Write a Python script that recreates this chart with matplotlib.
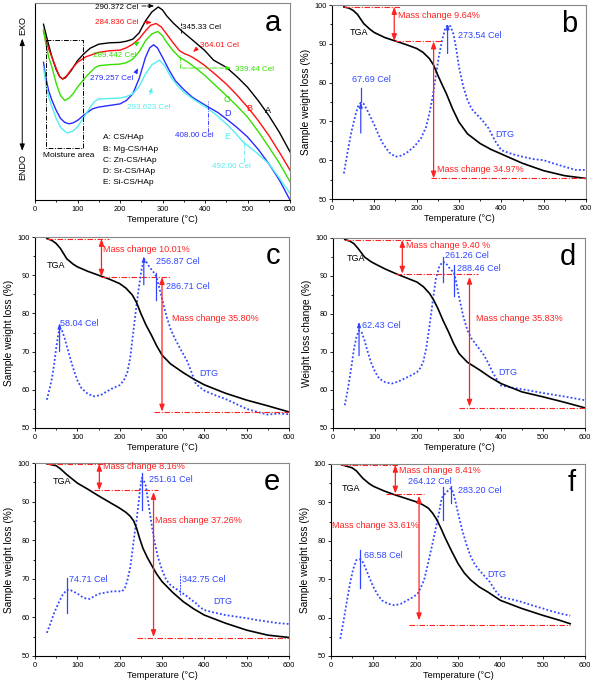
import matplotlib
matplotlib.use('Agg')
import matplotlib.pyplot as plt
from matplotlib.ticker import MultipleLocator

plt.rcParams['font.family'] = ['Liberation Sans', 'DejaVu Sans']

W, H = 593, 687
RED = '#ff2020'
BLUE = '#3047ff'
DASHDOT = (0, (5, 1.5, 1, 1.5))

# ---- panel a : DTA curves (arbitrary units) ----
a_T_A = [20, 25, 32, 40, 50, 58, 65, 72, 85, 100, 115, 130, 150, 175, 200, 215, 230, 245, 260, 275, 290,
         300, 310, 325, 345, 370, 400, 420, 450, 475, 500, 525, 550, 575, 600]
a_A = [88.3, 84, 78, 71.7, 65.5, 62, 60.8, 61.5, 65, 70, 73.5, 76.3, 78.3, 79, 79.2, 79.8, 80.8, 84, 90, 94.5, 97,
       95.5, 92.5, 89, 85, 80.5, 75, 70.3, 66.7, 62, 56.7, 50, 42.5, 34, 24.2]
a_T_B = [20, 25, 32, 40, 50, 58, 65, 75, 85, 100, 120, 150, 175, 200, 215, 230, 245, 260, 272, 285,
         297, 310, 325, 340, 352, 364, 380, 400, 425, 450, 475, 500, 525, 550, 575, 600]
a_B = [85, 81, 76, 71.7, 66, 62, 60.8, 62.5, 65.5, 69.2, 72, 74.2, 75, 75.3, 76.5, 78.3, 81, 85, 87.8, 88.7,
       87, 83.3, 79, 75, 73.5, 72.5, 70.5, 67.5, 63, 58.3, 52.8, 46.7, 40, 32.5, 24, 15]
a_T_C = [20, 25, 32, 40, 50, 60, 70, 80, 90, 100, 120, 140, 150, 175, 200, 215, 230, 245, 260, 275, 289,
         300, 310, 325, 340, 350, 360, 380, 400, 425, 450, 475, 500, 525, 550, 575, 600]
a_C = [85.8, 79, 72, 66.7, 58.5, 52.5, 50, 51.2, 53.5, 56.7, 62, 66.3, 67.5, 68, 68.3, 69, 70.8, 74.5, 80, 83.5, 84.7,
       82.5, 79.2, 75, 71.7, 70.5, 69.2, 66, 62.5, 57.5, 52.5, 47.3, 41.7, 34.5, 26.7, 18.5, 9.2]
a_T_D = [20, 25, 32, 40, 50, 60, 70, 80, 90, 100, 120, 135, 150, 175, 200, 215, 230, 245, 260, 270, 279,
         288, 300, 315, 330, 350, 370, 390, 408, 430, 450, 475, 500, 525, 550, 575, 600]
a_D = [69.2, 62, 55, 50, 45, 41, 39, 38.3, 38.8, 40, 43.5, 45.8, 46.7, 47.5, 48.3, 50, 53.3, 61, 71.7, 76.5, 78,
       76.5, 71.7, 65.5, 60, 55.5, 51.7, 49, 46.7, 44, 40.8, 36.5, 31.7, 25.5, 18.3, 10, 0.0]
a_T_E = [20, 25, 32, 40, 50, 60, 75, 88, 100, 115, 130, 140, 150, 175, 200, 215, 230, 245, 260, 275, 293,
         305, 320, 335, 350, 375, 400, 425, 450, 470, 492, 520, 550, 575, 600]
a_E = [66.7, 59, 52, 46.7, 41, 36.5, 33.7, 34.5, 36.7, 41.5, 46.7, 49.5, 50.8, 51, 51.2, 52, 53.3, 57, 63.3, 68, 70.3,
       67.5, 61.7, 57.5, 54.2, 50.3, 47, 43, 38.3, 34, 28.7, 24, 18.3, 11, 3.3]
a_colors = ['black', '#ff1010', '#33e000', '#2a2aff', '#55eeee']
a_names = ['A: CS/HAp', 'B: Mg-CS/HAp', 'C: Zn-CS/HAp', 'D: Sr-CS/HAp', 'E: Si-CS/HAp']

# ---- panel b ----
b_T_tga = [28, 40, 50, 60, 75, 90, 100, 125, 150, 175, 200, 215, 230, 240, 250, 260, 270, 285, 300, 320,
           350, 375, 400, 450, 500, 550, 600]
b_tga = [99.5, 99.2, 98.6, 97.6, 95.2, 93.7, 92.9, 91.6, 90.7, 89.8, 88.8, 87.8, 86.2, 84.5, 81.9, 79.5, 77.2, 73.2, 69.8, 66.8,
         64.3, 62.8, 61.6, 59.2, 57.3, 56.0, 55.3]
b_T_dtg = [28, 35, 45, 55, 62, 68, 75, 85, 100, 110, 120, 135, 150, 165, 180, 195, 210, 222, 230, 238, 245, 252,
           260, 267, 273, 280, 287, 293, 300, 310, 320, 330, 340, 355, 370, 385, 400, 425, 450, 475, 500, 525,
           550, 575, 600]
b_dtg = [56.6, 61, 66.9, 71.5, 74, 74.8, 74.5, 72.5, 69.1, 66.5, 64.3, 62, 60.9, 61.2, 62.2, 63.6, 65.6, 68.5, 72, 76.5, 81.5, 86.5,
         90.9, 93.8, 94.8, 94.5, 92.5, 89, 84, 79, 75.5, 73.2, 72, 70.3, 68.2, 65, 62.6, 61.6, 60.9, 60.3, 60, 59.1,
         58.3, 57.5, 57.5]

# ---- panel c ----
c_T_tga = [28, 40, 50, 60, 75, 90, 100, 125, 150, 175, 200, 215, 230, 240, 250, 262, 275, 287, 300, 320,
           350, 375, 400, 450, 500, 550, 600]
c_tga = [99.6, 99.1, 98.3, 97, 94.3, 92.9, 92.2, 91, 90, 89, 87.8, 86.6, 84.8, 82.8, 80, 77, 74.3, 71.6, 69.1, 66.8,
         64.5, 62.8, 61.3, 59.1, 57.3, 55.8, 54.2]
c_T_dtg = [28, 35, 40, 45, 50, 55, 58, 63, 70, 80, 90, 100, 110, 125, 140, 155, 170, 185, 200, 210, 218, 225,
           232, 238, 245, 251, 257, 263, 270, 280, 287, 293, 300, 310, 320, 330, 345, 360, 370, 380, 400, 425,
           450, 475, 500, 525, 550, 575, 600]
c_dtg = [57.4, 60.5, 63, 66.5, 70.9, 74.5, 76, 75.8, 73.5, 69.5, 65.7, 62.5, 60.4, 58.9, 58.3, 58.6, 59.6, 60.5, 61.2, 62.5, 64.5, 68.5,
         75, 80.5, 86.5, 91, 94.3, 93.5, 92.2, 90.8, 89.6, 87, 83.9, 79.5, 76, 73.5, 70.4, 67.4, 64.5, 61.5, 59.8, 58.6,
         57.6, 56.3, 55.0, 54.2, 53.5, 53.8, 53.6]

# ---- panel d ----
d_T_tga = [28, 40, 50, 60, 75, 90, 100, 125, 150, 175, 200, 215, 230, 240, 250, 262, 275, 287, 300, 320,
           350, 375, 400, 450, 500, 550, 600]
d_tga = [99.6, 99.2, 98.5, 97.2, 95, 93.8, 93.2, 91.8, 90.6, 89.5, 88.4, 87.2, 85.4, 83.6, 81.4, 78.3, 75.3, 72.3, 69.6, 67.3,
         65.2, 63.3, 61.7, 59.5, 58.2, 56.8, 55.3]
d_T_dtg = [28, 35, 40, 45, 50, 56, 62, 68, 75, 82, 90, 100, 110, 125, 140, 155, 170, 185, 200, 208, 215, 222,
           230, 237, 245, 253, 261, 268, 275, 282, 288, 294, 300, 310, 320, 330, 345, 360, 370, 380, 390, 400,
           425, 450, 500, 550, 600]
d_dtg = [56, 60, 63.4, 67, 70.9, 74, 75.7, 75.3, 73.1, 70.3, 67.4, 64.8, 63, 62, 61.7, 62.2, 63, 63.8, 64.7, 65.8, 67.4, 71,
         77, 83, 89.3, 92.5, 93.7, 93.5, 92.4, 91.5, 91, 88, 84.5, 79.5, 75.7, 73.5, 71.3, 69.1, 67, 64.7, 62.8, 61.2,
         60.6, 60.2, 59.2, 58.3, 57.3]

# ---- panel e ----
e_T_tga = [28, 50, 60, 75, 100, 125, 150, 175, 200, 215, 225, 233, 240, 247, 255, 265, 275, 287, 300, 325,
           350, 375, 400, 450, 500, 550, 600]
e_tga = [99.8, 99.3, 98.5, 97, 94.8, 93.2, 91.5, 89.9, 88.3, 87.2, 86.2, 85, 83.1, 80.5, 77.9, 75.6, 73.6, 71.3, 69.3, 66.5,
         64.1, 62.2, 60.6, 58.5, 56.7, 55.4, 54.8]
e_T_dtg = [28, 35, 45, 55, 65, 75, 82, 90, 100, 110, 120, 130, 140, 150, 165, 180, 195, 205, 212, 218, 225,
           230, 235, 240, 244, 248, 252, 257, 262, 268, 275, 282, 290, 300, 310, 320, 330, 343, 352, 360, 370,
           380, 390, 400, 425, 450, 475, 500, 525, 550, 575, 600]
e_dtg = [56, 58, 61.1, 63.6, 65.8, 67.1, 67.2, 66.7, 66.2, 65.4, 64.9, 64.8, 65.5, 66.1, 66.4, 66.7, 66.8, 66.7, 67.5, 69.5, 73,
         77.1, 81.5, 85.3, 89, 93, 96.1, 95.5, 94, 89.5, 84.4, 79.8, 75.8, 72.3, 69.7, 68.4, 67.6, 66.7, 66, 65.4, 64.5,
         63.7, 62.6, 61.9, 61.2, 60.6, 60.2, 59.8, 59.3, 58.9, 58.5, 58.3]

# ---- panel f ----
f_T_tga = [25, 50, 60, 75, 90, 100, 125, 150, 175, 200, 215, 230, 240, 250, 260, 270, 285, 300, 315, 330,
           350, 370, 400, 450, 500, 540, 565]
f_tga = [99.8, 99.0, 98.2, 96.3, 94.9, 94.2, 93, 92.0, 91.1, 90.2, 89.5, 88.5, 87.2, 85.5, 83.2, 80.7, 77.3, 74.1, 71.6, 69.8,
         68, 66.7, 64.5, 62.4, 60.6, 59.3, 58.4]
f_T_dtg = [22, 26, 30, 37, 45, 52, 60, 69, 75, 80, 90, 100, 110, 120, 135, 150, 165, 180, 195, 205, 212, 220,
           230, 240, 248, 255, 260, 264, 270, 275, 283, 289, 295, 302, 310, 320, 330, 340, 350, 362, 375, 387,
           400, 425, 450, 475, 500, 520, 540, 565]
f_dtg = [54.5, 57, 59.3, 64, 68.9, 72.5, 75, 75.2, 74.5, 73.3, 70.6, 68, 66, 64.5, 63.6, 63.2, 63.6, 64.5, 65.4, 66.3, 67.8, 69.8,
         74.5, 79.4, 83.5, 87.2, 90.3, 91.6, 92.3, 92.9, 93.7, 92.5, 89.8, 86.3, 82.8, 79, 75.9, 73.8, 72.4, 70.9, 69.3, 67.2,
         65.4, 64.8, 64.1, 63.2, 62.4, 61.7, 61.1, 60.5]


def rect(l, t, r, b):
    return [l / W, 1 - b / H, (r - l) / W, (b - t) / H]


def style(ax, ylabel=None):
    ax.set_xlim(0, 600)
    ax.xaxis.set_major_locator(MultipleLocator(100))
    ax.xaxis.set_minor_locator(MultipleLocator(50))
    ax.tick_params(which='both', direction='out', labelsize=5.3, width=0.6, pad=1.5)
    ax.tick_params(which='major', length=2.5)
    ax.tick_params(which='minor', length=1.5)
    for s in ax.spines.values():
        s.set_linewidth(0.8)
    ax.spines['top'].set_color('#888888')
    ax.spines['right'].set_color('#888888')
    ax.set_xlabel('Temperature (°C)', fontsize=6.6, labelpad=1.5)
    if ylabel:
        ax.set_ylim(50, 100)
        ax.yaxis.set_major_locator(MultipleLocator(10))
        ax.yaxis.set_minor_locator(MultipleLocator(5))
        ax.set_ylabel(ylabel, fontsize=7.3, labelpad=2)


def hline(ax, y, x0, x1):
    ax.plot([x0, x1], [y, y], color=RED, lw=0.8, ls=DASHDOT)


def mass_arrow(ax, x, y0, y1):
    ax.annotate('', xy=(x, y1), xytext=(x, y0),
                arrowprops=dict(arrowstyle='<|-|>,head_length=0.4,head_width=0.15',
                                color=RED, lw=0.9, shrinkA=0, shrinkB=0))


def peak_mark(ax, x, y0, y1, ls='-'):
    ax.annotate('', xy=(x, y1), xytext=(x, y0),
                arrowprops=dict(arrowstyle='-|>,head_length=0.3,head_width=0.1',
                                color=BLUE, lw=0.9, ls=ls, shrinkA=0, shrinkB=0))


def txt(ax, x, y, s, color, size=6.5):
    ax.text(x, y, s, color=color, fontsize=size, va='center', ha='left')


def tg_panel(rc, T_tga, tga, T_dtg, dtg, letter, ylabel='Sample weight loss (%)'):
    ax = fig.add_axes(rect(*rc))
    ax.plot(T_dtg, dtg, color=BLUE, lw=1.3, ls=(0, (1, 1.2)))
    ax.plot(T_tga, tga, color='black', lw=1.2)
    style(ax, ylabel)
    ax.text(0.965, 0.9, letter, transform=ax.transAxes, fontsize=21, ha='right', va='center')
    return ax


fig = plt.figure(figsize=(W / 100, H / 100), dpi=100)

# ---- panel a ----
ax = fig.add_axes(rect(35, 3, 290, 200))
for T, y, c in zip([a_T_A, a_T_B, a_T_C, a_T_D, a_T_E], [a_A, a_B, a_C, a_D, a_E], a_colors):
    ax.plot(T, y, color=c, lw=1.0)
style(ax)
ax.set_ylim(0, 99)
ax.set_yticks([])
ax.text(0.965, 0.9, 'a', transform=ax.transAxes, fontsize=21, ha='right', va='center')
ax.plot([25, 112, 112, 25, 25], [80.3, 80.3, 26.2, 26.2, 80.3], color='black', lw=0.7, ls=DASHDOT)
txt(ax, 18, 22.2, 'Moisture area', 'black', 6)
for i, name in enumerate(a_names):
    txt(ax, 161, 31.2 - 5.6 * i, name, 'black', 6)
for lab, x, y in zip('ABCDE', [541, 498, 443, 445, 445], [45.0, 45.8, 50.5, 43.3, 31.7]):
    txt(ax, x, y, lab, a_colors['ABCDE'.index(lab)], 6.5)
ap = dict(arrowstyle='-|>,head_length=0.3,head_width=0.12', lw=0.6)
txt(ax, 141, 96.7, '290.372 Cel', 'black', 5.8)
ax.annotate('', xy=(287, 97.5), xytext=(245, 97.5), arrowprops=dict(ap, color='black', ls=DASHDOT))
txt(ax, 141, 89.2, '284.836 Cel', a_colors[1], 5.8)
ax.annotate('', xy=(282, 89.2), xytext=(250, 89.2), arrowprops=dict(ap, color=a_colors[1], ls=DASHDOT))
txt(ax, 345, 86.7, '345.33 Cel', 'black', 5.8)
ax.plot([343, 343], [84, 89], color='black', lw=0.6, ls=DASHDOT)
txt(ax, 388, 77.5, '364.01 Cel', a_colors[1], 5.8)
ax.annotate('', xy=(367, 73.5), xytext=(386, 77), arrowprops=dict(ap, color=a_colors[1]))
txt(ax, 470, 65.5, '339.44 Cel', a_colors[2], 5.8)
ax.annotate('', xy=(468, 66.3), xytext=(340, 66.3), arrowprops=dict(ap, color=a_colors[2], ls=DASHDOT))
ax.plot([340, 340], [66.3, 73], color=a_colors[2], lw=0.6, ls=DASHDOT)
txt(ax, 137, 72.5, '289.442 Cel', a_colors[2], 5.8)
ax.annotate('', xy=(252, 80.5), xytext=(232, 77.5), arrowprops=dict(ap, color=a_colors[2], ls=DASHDOT))
txt(ax, 129, 61.0, '279.257 Cel', a_colors[3], 5.8)
ax.annotate('', xy=(245, 67.5), xytext=(236, 63.5), arrowprops=dict(ap, color=a_colors[3]))
txt(ax, 216, 46.7, '293.623 Cel', a_colors[4], 5.8)
ax.annotate('', xy=(278, 58), xytext=(268, 51.5), arrowprops=dict(ap, color=a_colors[4], ls=DASHDOT))
txt(ax, 329, 32.5, '408.00 Cel', a_colors[3], 5.8)
ax.plot([408, 408], [34, 50], color=a_colors[3], lw=0.6, ls=DASHDOT)
txt(ax, 416, 17.0, '492.00 Cel', a_colors[4], 5.8)
ax.plot([492, 492], [19, 30], color=a_colors[4], lw=0.6, ls=DASHDOT)
ax.text(-0.05, 87.5, 'EXO', transform=ax.get_yaxis_transform(), rotation=90,
        fontsize=6.5, ha='center', va='center')
ax.text(-0.05, 16.7, 'ENDO', transform=ax.get_yaxis_transform(), rotation=90,
        fontsize=6.5, ha='center', va='center')
ax.annotate('', xy=(-0.05, 82.5), xytext=(-0.05, 23.3),
            xycoords=ax.get_yaxis_transform(), textcoords=ax.get_yaxis_transform(),
            arrowprops=dict(arrowstyle='<|-|>,head_length=0.4,head_width=0.15', color='black', lw=0.7),
            annotation_clip=False)

# ---- panel b ----
ax = tg_panel((332, 5, 586, 199), b_T_tga, b_tga, b_T_dtg, b_dtg, 'b')
txt(ax, 43, 93.0, 'TGA', 'black')
hline(ax, 99.5, 28, 160)
mass_arrow(ax, 147, 99.5, 90.7)
txt(ax, 156, 97.2, 'Mass change 9.64%', RED)
hline(ax, 90.6, 150, 260)
mass_arrow(ax, 240, 90.6, 55.3)
hline(ax, 55.3, 235, 600)
txt(ax, 247, 57.6, 'Mass change 34.97%', RED)
peak_mark(ax, 273, 87.5, 95.2)
txt(ax, 298, 92.2, '273.54 Cel', BLUE)
peak_mark(ax, 68, 67.0, 75.0)
ax.plot([68, 68], [75, 78.5], color=BLUE, lw=0.9)
txt(ax, 47, 80.8, '67.69 Cel', BLUE)
txt(ax, 385, 66.5, 'DTG', BLUE)

# ---- panel c ----
ax = tg_panel((35, 237, 289, 428), c_T_tga, c_tga, c_T_dtg, c_dtg, 'c')
txt(ax, 27, 92.6, 'TGA', 'black')
hline(ax, 99.6, 28, 175)
mass_arrow(ax, 157, 99.5, 89.6)
txt(ax, 161, 96.8, 'Mass change 10.01%', RED)
hline(ax, 89.5, 155, 318)
mass_arrow(ax, 300, 89.5, 54.3)
hline(ax, 54.1, 280, 600)
txt(ax, 323, 78.7, 'Mass change 35.80%', RED)
peak_mark(ax, 257, 87.5, 95.0)
txt(ax, 285, 93.5, '256.87 Cel', BLUE)
ax.plot([287, 287], [83.5, 90.5], color=BLUE, lw=0.9)
txt(ax, 309, 87.1, '286.71 Cel', BLUE)
peak_mark(ax, 58, 70.0, 77.5)
txt(ax, 60, 77.3, '58.04 Cel', BLUE)
txt(ax, 388, 64.3, 'DTG', BLUE)

# ---- panel d ----
ax = tg_panel((333, 238, 585, 428), d_T_tga, d_tga, d_T_dtg, d_dtg, 'd', 'Weight loss change (%)')
txt(ax, 32, 94.6, 'TGA', 'black')
hline(ax, 99.5, 28, 185)
mass_arrow(ax, 165, 99.5, 90.6)
txt(ax, 173, 98.0, 'Mass change 9.40 %', RED)
hline(ax, 90.6, 150, 345)
mass_arrow(ax, 325, 89.8, 55.6)
hline(ax, 55.2, 300, 600)
txt(ax, 340, 78.8, 'Mass change 35.83%', RED)
ax.plot([261, 261], [88.4, 95.0], color=BLUE, lw=0.9)
txt(ax, 266, 95.3, '261.26 Cel', BLUE)
ax.plot([288, 288], [84.7, 93.0], color=BLUE, lw=0.9)
txt(ax, 295, 92.1, '288.46 Cel', BLUE)
peak_mark(ax, 62, 69.0, 78.0)
txt(ax, 68, 77.0, '62.43 Cel', BLUE)
txt(ax, 394, 64.7, 'DTG', BLUE)

# ---- panel e ----
ax = tg_panel((35, 463, 289, 656), e_T_tga, e_tga, e_T_dtg, e_dtg, 'e')
txt(ax, 43, 95.2, 'TGA', 'black')
hline(ax, 99.8, 28, 160)
mass_arrow(ax, 152, 99.8, 92.9)
txt(ax, 161, 99.0, 'Mass change 8.16%', RED)
hline(ax, 93.0, 140, 290)
mass_arrow(ax, 280, 92.5, 54.9)
hline(ax, 54.6, 240, 600)
txt(ax, 284, 85.0, 'Mass change 37.26%', RED)
ax.plot([252, 252], [87.9, 97.4], color=BLUE, lw=0.9)
txt(ax, 270, 95.6, '251.61 Cel', BLUE)
ax.plot([75, 75], [61.2, 70.2], color=BLUE, lw=0.9)
txt(ax, 81, 69.7, '74.71 Cel', BLUE)
ax.plot([343, 343], [65.8, 71.3], color=BLUE, lw=0.7, ls=(0, (2, 1)))
txt(ax, 347, 69.7, '342.75 Cel', BLUE)
txt(ax, 422, 64.1, 'DTG', BLUE)

# ---- panel f ----
ax = tg_panel((331, 464, 585, 656), f_T_tga, f_tga, f_T_dtg, f_dtg, 'f')
txt(ax, 25, 93.5, 'TGA', 'black')
hline(ax, 99.8, 25, 160)
mass_arrow(ax, 152, 99.8, 92.3)
txt(ax, 161, 98.3, 'Mass change 8.41%', RED)
hline(ax, 92.2, 130, 220)
mass_arrow(ax, 208, 91.7, 59.3)
hline(ax, 58.2, 185, 565)
txt(ax, 2, 84.0, 'Mass change 33.61%', RED)
ax.plot([264, 264], [85.5, 94.0], color=BLUE, lw=0.9)
txt(ax, 181, 95.5, '264.12 Cel', BLUE)
ax.plot([283, 283], [89.8, 94.3], color=BLUE, lw=0.9)
txt(ax, 299, 93.1, '283.20 Cel', BLUE)
ax.plot([69, 69], [67.6, 77.6], color=BLUE, lw=0.9)
txt(ax, 77, 76.3, '68.58 Cel', BLUE)
txt(ax, 370, 71.3, 'DTG', BLUE)

fig.savefig('out.png', dpi=100)
